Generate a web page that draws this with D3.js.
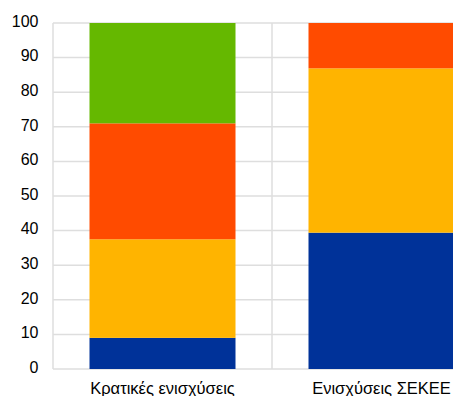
<!DOCTYPE html>
<html>
<head>
<meta charset="utf-8">
<script src="https://cdn.jsdelivr.net/npm/d3@7"></script>
<style>
  html, body { margin: 0; padding: 0; background: #fff; }
  svg { display: block; }
  text { font-family: "Liberation Sans", Arial, sans-serif; fill: #000; }
</style>
</head>
<body>
<svg id="chart" width="453" height="396"></svg>
<script>
const categories = ["Κρατικές ενισχύσεις", "Ενισχύσεις ΣΕΚΕΕ"];
const seriesNames = ["s1", "s2", "s3", "s4"];
const s1 = [9, 39.4];
const s2 = [28.5, 47.5];
const s3 = [33.5, 13.1];
const s4 = [29, 0];
const colors = ["#003299", "#FFB400", "#FF4B00", "#65B800"];
const yTicks = [0, 10, 20, 30, 40, 50, 60, 70, 80, 90, 100];

const seriesValues = [s1, s2, s3, s4];
const rows = categories.map((c, i) => {
  const r = { cat: c };
  seriesNames.forEach((s, j) => r[s] = seriesValues[j][i]);
  return r;
});

const svg = d3.select("#chart");
const margin = { left: 53, top: 23, bottom: 369, right: 491 };

const x = d3.scaleBand().domain(categories).range([margin.left, margin.right])
  .paddingInner(1/3).paddingOuter(1/6);
const y = d3.scaleLinear().domain([0, 100]).range([margin.bottom, margin.top]);

const grid = svg.append("g");
grid.selectAll("line.h").data(yTicks).join("line")
  .attr("x1", margin.left).attr("x2", margin.right)
  .attr("y1", d => y(d)).attr("y2", d => y(d))
  .attr("stroke", "#dedede").attr("stroke-width", 1.5);
const step = x.step();
const bounds = [0, 1, 2].map(i => margin.left + i * step);
grid.selectAll("line.v").data(bounds).join("line")
  .attr("x1", d => d).attr("x2", d => d)
  .attr("y1", margin.top).attr("y2", margin.bottom)
  .attr("stroke", "#dedede").attr("stroke-width", 1.5);

const stack = d3.stack().keys(seriesNames)(rows);
svg.append("g").selectAll("g").data(stack).join("g")
  .attr("fill", (d, i) => colors[i])
  .selectAll("rect").data(d => d).join("rect")
  .attr("x", d => x(d.data.cat))
  .attr("width", x.bandwidth())
  .attr("y", d => y(d[1]))
  .attr("height", d => y(d[0]) - y(d[1]));

const yAxis = d3.axisLeft(y).tickValues(yTicks).tickSize(0).tickPadding(14.5);
const ya = svg.append("g").attr("transform", `translate(${margin.left},0)`).call(yAxis);
ya.select(".domain").remove();
ya.selectAll("text").attr("dy", "0.2em")
  .style("font-size", "16px").style("font-family", "'Liberation Sans', Arial, sans-serif");

const xAxis = d3.axisBottom(x).tickSize(0);
const xa = svg.append("g").attr("transform", `translate(0,${margin.bottom})`).call(xAxis);
xa.select(".domain").remove();
xa.selectAll("text").attr("y", 24.5).attr("dy", 0)
  .style("font-size", "16.5px").style("font-family", "'Liberation Sans', Arial, sans-serif");
</script>
</body>
</html>
